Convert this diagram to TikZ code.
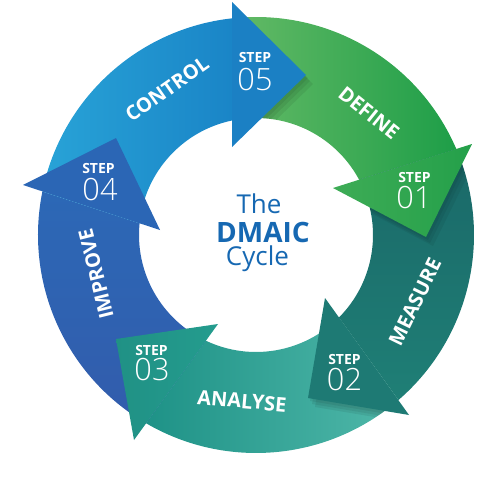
\documentclass[tikz,border=0pt]{standalone}
\usepackage{fontspec}
\setmainfont{Open Sans}
\newfontfamily\thinfont{Open Sans}[UprightFont={* Light}]
\usepackage{tikz}

\begin{document}
\begin{tikzpicture}[x=0.75pt,y=0.75pt,yscale=-1,xscale=1,
  band label/.style={text=white, inner sep=0, font=\fontsize{15}{18}\selectfont\bfseries},
  step word/.style={text=white, inner sep=0, font=\fontsize{10.5}{12}\selectfont\bfseries},
  step num/.style={text=white, inner sep=0, font=\fontsize{23}{26}\selectfont\thinfont},
  centre text/.style={text={rgb, 255:red, 22; green, 104; blue, 178 }, inner sep=0, anchor=base}]
\path[use as bounding box] (0,0) rectangle (500,478);

%Shape: Ring bands (centre 256,235)
\begin{scope}[shift={(256,235)}]
%Shape: Arc [define]
\shade [left color={rgb, 255:red, 100; green, 186; blue, 102 }, right color={rgb, 255:red, 30; green, 158; blue, 72 }] (-96.3:218) arc [start angle=-96.3, end angle=-23.2, radius=218] -- (-28.2:117) arc [start angle=-28.2, end angle=-101.8, radius=117] -- cycle ;
%Shape: Arc [measure]
\shade [top color={rgb, 255:red, 26; green, 104; blue, 104 }, bottom color={rgb, 255:red, 31; green, 127; blue, 118 }] (-23.2:218) arc [start angle=-23.2, end angle=49.2, radius=218] -- (44.8:117) arc [start angle=44.8, end angle=-28.2, radius=117] -- cycle ;
%Shape: Arc [analyse]
\shade [left color={rgb, 255:red, 30; green, 146; blue, 135 }, right color={rgb, 255:red, 80; green, 184; blue, 169 }] (49.2:218) arc [start angle=49.2, end angle=120.3, radius=218] -- (115.4:117) arc [start angle=115.4, end angle=44.8, radius=117] -- cycle ;
%Shape: Arc [improve]
\shade [top color={rgb, 255:red, 44; green, 104; blue, 182 }, bottom color={rgb, 255:red, 50; green, 92; blue, 172 }] (120.3:218) arc [start angle=120.3, end angle=191.5, radius=218] -- (185.7:117) arc [start angle=185.7, end angle=115.4, radius=117] -- cycle ;
%Shape: Arc [control]
\shade [left color={rgb, 255:red, 40; green, 163; blue, 215 }, right color={rgb, 255:red, 26; green, 133; blue, 199 }] (191.5:218) arc [start angle=191.5, end angle=263.7, radius=218] -- (258.2:117) arc [start angle=258.2, end angle=185.7, radius=117] -- cycle ;
\end{scope}

%Shape: Shadows under the heads
\begin{scope}[even odd rule]
\clip (256,235) circle (218) (256,235) circle (117);
\foreach \dx/\dy in {2/3,4/6,7/9}{
  \fill [black, opacity=0.07, shift={(\dx,\dy)}] (232,2) -- (306,75) -- (232,147) -- cycle ;
  \fill [black, opacity=0.06, shift={(\dx,\dy)}] (472,144) -- (426,237) -- (333,188) -- cycle ;
  \fill [black, opacity=0.07, shift={(\dx,\dy)}] (325,298) -- (308,398) -- (409,415) -- cycle ;
}
\end{scope}

%Shape: Triangle [control head]
\fill [color={rgb, 255:red, 27; green, 128; blue, 196 }] (232,2) -- (306,75) -- (232,147) -- cycle ;
%Shape: Triangle [define head]
\shade [left color={rgb, 255:red, 62; green, 172; blue, 86 }, right color={rgb, 255:red, 36; green, 160; blue, 74 }] (472,144) -- (426,237) -- (333,188) -- cycle ;
%Shape: Triangle [measure head]
\fill [color={rgb, 255:red, 30; green, 122; blue, 116 }] (325,298) -- (308,398) -- (409,415) -- cycle ;
%Shape: Triangle [analyse head]
\shade [left color={rgb, 255:red, 32; green, 145; blue, 133 }, right color={rgb, 255:red, 36; green, 156; blue, 142 }] (218,324) -- (116,339) -- (134,440) -- cycle ;
%Shape: Triangle [improve head]
\fill [color={rgb, 255:red, 43; green, 102; blue, 181 }] (23,185) -- (116,138) -- (160,230) -- cycle ;

% Text Node
\draw (167,89) node (control) [band label, rotate=35] {CONTROL};
% Text Node
\draw (369,113) node (define) [band label, rotate=-39] {DEFINE};
% Text Node
\draw (415,302) node (measure) [band label, rotate=64] {MEASURE};
% Text Node
\draw (242,401) node (analyse) [band label, rotate=-5] {ANALYSE};
% Text Node
\draw (96,274) node (improve) [band label, rotate=104] {IMPROVE};

% Text Node
\draw (414.5,177) node (stepA) [step word] {STEP};
\draw (414,198) node (numA) [step num] {01};
% Text Node
\draw (344.5,359) node (stepB) [step word] {STEP};
\draw (344.5,380) node (numB) [step num] {02};
% Text Node
\draw (151.5,350.5) node (stepC) [step word] {STEP};
\draw (152,370) node (numC) [step num] {03};
% Text Node
\draw (98.5,168) node (stepD) [step word] {STEP};
\draw (100,189.5) node (numD) [step num] {04};
% Text Node
\draw (255,58) node (stepE) [step word] {STEP};
\draw (255,80) node (numE) [step num] {05};

% Text Node
\draw (259,213) node (the) [centre text, font=\fontsize{19.5}{22}\selectfont] {The};
% Text Node
\draw (263,242) node (dmaic) [centre text, font=\fontsize{21}{24}\selectfont\bfseries] {DMAIC};
% Text Node
\draw (257.5,265) node (cycle) [centre text, font=\fontsize{19.5}{22}\selectfont] {Cycle};

\end{tikzpicture}
\end{document}
